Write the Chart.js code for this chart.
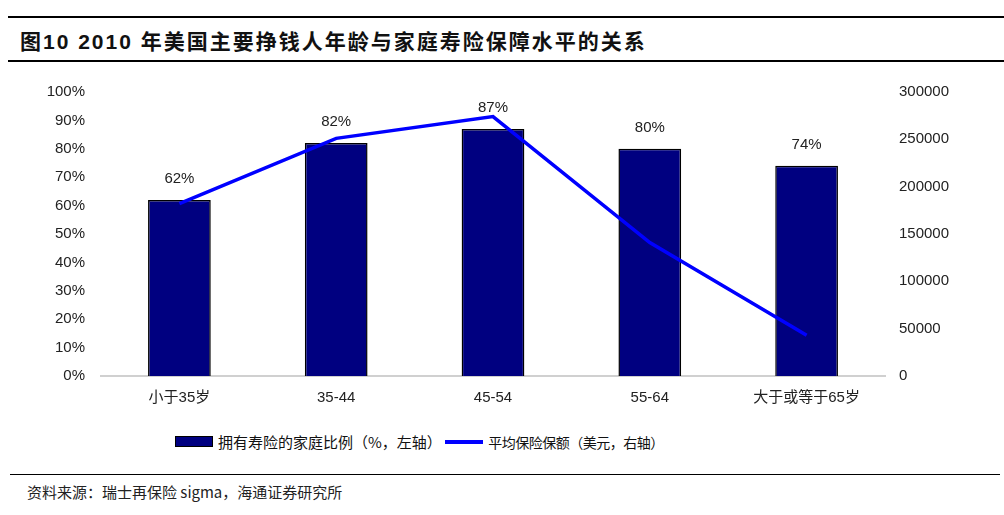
<!DOCTYPE html>
<html>
<head>
<meta charset="utf-8">
<script src="https://cdn.jsdelivr.net/npm/chart.js@4/dist/chart.umd.min.js"></script>
<style>
    html, body { margin: 0; padding: 0; background: #fff; }
    body { width: 1004px; height: 515px; position: relative; overflow: hidden;
           font-family: "Liberation Sans", "Noto Sans CJK SC", sans-serif; color: #222; }
    .rule { position: absolute; height: 2px; background: #000; }
    .title { position: absolute; left: 20px; top: 28px; font-size: 21px; font-weight: bold; color: #111;
             letter-spacing: 2px; line-height: 28px;
             font-family: "Liberation Sans", "Noto Sans CJK SC", sans-serif; white-space: nowrap; }
    .chart-box { position: absolute; left: 0; top: 75px; width: 1004px; height: 335px; }
    .legend { position: absolute; top: 429px; left: 175px; font-size: 15px; color: #111;
              font-family: "Noto Sans CJK SC", sans-serif; white-space: nowrap; }
    .legend span { display: inline-block; vertical-align: middle; }
    .sw-bar { width: 36px; height: 9px; background: #000080; border: 1px solid #000; margin-right: 5px; }
    .sw-line { width: 38px; height: 4px; background: #0000ff; margin-left: 0; margin-right: 5px; }
    .legend .narrow { font-size: 14px; letter-spacing: -0.5px; }
    .source { position: absolute; left: 27px; top: 481px; font-size: 15px; color: #222;
              font-family: "Noto Sans CJK SC", sans-serif; white-space: nowrap; }
</style>
</head>
<body>
<div class="rule" style="left:8px; right:0; top:16px;"></div>
<div class="title">图10 2010 年美国主要挣钱人年龄与家庭寿险保障水平的关系</div>
<div class="rule" style="left:8px; right:0; top:60px;"></div>

<div class="chart-box"><canvas id="chart"></canvas></div>

<div class="legend">
    <span class="sw-bar"></span><span>拥有寿险的家庭比例（%，左轴）</span>
    <span class="sw-line"></span><span class="narrow">平均保险保额（美元，右轴）</span>
</div>

<div class="rule" style="left:10px; right:4px; top:474px; height:1px;"></div>
<div class="source">资料来源：瑞士再保险 sigma，海通证券研究所</div>

<script>
// ==========================================
// Data
// ==========================================
const categories = ['小于35岁', '35-44', '45-54', '55-64', '大于或等于65岁'];
const householdShare = [62, 82, 87, 80, 74];              // %, left axis
const avgCoverage = [182000, 251000, 274000, 141000, 43000]; // USD, right axis
const leftTicks = [0, 10, 20, 30, 40, 50, 60, 70, 80, 90, 100];
const rightTicks = [0, 50000, 100000, 150000, 200000, 250000, 300000];

const tickFont = { family: '"Liberation Sans", "Noto Sans CJK SC", sans-serif', size: 15 };

// Percent labels above the bars (bar dataset is index 1)
const barLabels = {
    id: 'barLabels',
    afterDatasetsDraw(chart) {
        const ctx = chart.ctx;
        const meta = chart.getDatasetMeta(1);
        ctx.save();
        ctx.font = '15px "Liberation Sans", sans-serif';
        ctx.fillStyle = '#222';
        ctx.textAlign = 'center';
        ctx.textBaseline = 'middle';
        meta.data.forEach((bar, i) => {
            ctx.fillText(householdShare[i] + '%', bar.x, bar.y - 21);
        });
        ctx.restore();
    }
};

new Chart(document.getElementById('chart'), {
    data: {
        labels: categories,
        datasets: [
            {
                type: 'line',
                label: '平均保险保额（美元，右轴）',
                data: avgCoverage,
                yAxisID: 'y1',
                borderColor: '#0000ff',
                borderWidth: 3.5,
                pointRadius: 0,
                tension: 0,
                order: 0
            },
            {
                type: 'bar',
                label: '拥有寿险的家庭比例（%，左轴）',
                data: householdShare,
                yAxisID: 'y',
                backgroundColor: '#000080',
                borderColor: '#000',
                borderWidth: 1.5,
                barPercentage: 0.4,
                categoryPercentage: 1,
                order: 1
            }
        ]
    },
    options: {
        responsive: true,
        maintainAspectRatio: false,
        animation: false,
        layout: { padding: { top: 10, left: 0, right: 0, bottom: 0 } },
        plugins: {
            legend: { display: false },
            tooltip: { enabled: false }
        },
        scales: {
            x: {
                grid: { display: false },
                border: { display: true, color: '#d0d0d0', width: 2 },
                ticks: { font: tickFont, color: '#222', padding: 5, maxRotation: 0 },
                afterFit: (s) => { s.height = 34; }
            },
            y: {
                position: 'left',
                min: 0,
                max: 100,
                afterBuildTicks: (s) => { s.ticks = leftTicks.map(v => ({ value: v })); },
                grid: { display: false },
                border: { display: false },
                ticks: { font: tickFont, color: '#222', padding: 8, callback: (v) => v + '%' },
                afterFit: (s) => { s.width = 101; }
            },
            y1: {
                position: 'right',
                min: 0,
                max: 300000,
                afterBuildTicks: (s) => { s.ticks = rightTicks.map(v => ({ value: v })); },
                grid: { display: false },
                border: { display: false },
                ticks: { font: tickFont, color: '#222', padding: 6, callback: (v) => String(v) },
                afterFit: (s) => { s.width = 119; }
            }
        }
    },
    plugins: [barLabels]
});
</script>
</body>
</html>
